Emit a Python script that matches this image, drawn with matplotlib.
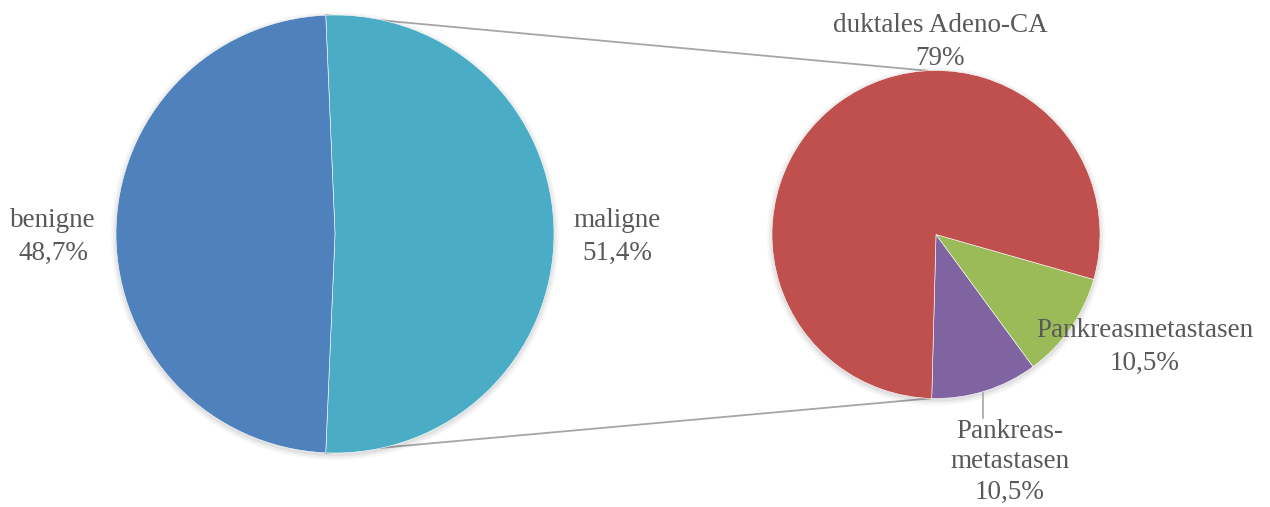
import numpy as np
import matplotlib
matplotlib.use("Agg")
import matplotlib.pyplot as plt
from matplotlib.patches import Circle

# Data
main_labels = ["maligne", "benigne"]
main_values = [51.4, 48.7]
main_colors = ["#4BACC6", "#4F81BD"]

sub_labels = ["Pankreas-\nmetastasen", "Pankreasmetastasen", "duktales Adeno-CA"]
sub_values = [10.5, 10.5, 79]
sub_pct = ["10,5%", "10,5%", "79%"]
sub_colors = ["#8064A2", "#9BBB59", "#C0504D"]

main_pct = ["51,4%", "48,7%"]

W, H = 1270, 507
fig = plt.figure(figsize=(W / 100, H / 100), dpi=100)
ax = fig.add_axes([0, 0, 1, 1])

def Y(y):
    return H - y

textc = "#595959"
font = dict(family="Liberation Serif", fontsize=19.5, color=textc, ha="center", va="center",
            linespacing=1.38)

# Left pie
c1 = (335, Y(234))
r1 = 219
tot1 = sum(main_values)
start1 = -main_values[0] / tot1 * 180
for k, a in enumerate([0.05, 0.04, 0.03]):
    ax.add_patch(Circle((c1[0], c1[1] - 2), r1 + 1 + 2 * k, color="black", alpha=a, lw=0, zorder=1))
ax.pie(main_values, colors=main_colors, center=c1, radius=r1, startangle=start1,
       counterclock=True, wedgeprops=dict(edgecolor="white", linewidth=0.4, zorder=2),
       frame=True)

# Right pie
c2 = (936, Y(234.5))
r2 = 164
tot2 = sum(sub_values)
start2 = -91.5
for k, a in enumerate([0.05, 0.04, 0.03]):
    ax.add_patch(Circle((c2[0], c2[1] - 2), r2 + 1 + 2 * k, color="black", alpha=a, lw=0, zorder=1))
ax.pie(sub_values, colors=sub_colors, center=c2, radius=r2, startangle=start2,
       counterclock=True, wedgeprops=dict(edgecolor="white", linewidth=0.4, zorder=2),
       frame=True)

ax.set_xlim(0, W)
ax.set_ylim(0, H)
ax.set_aspect("equal")
ax.axis("off")

# Connector lines
a_top = np.deg2rad(start1 + main_values[0] / tot1 * 360)
a_bot = np.deg2rad(start1)
p_top = (c1[0] + r1 * np.cos(a_top), c1[1] + r1 * np.sin(a_top))
p_bot = (c1[0] + r1 * np.cos(a_bot), c1[1] + r1 * np.sin(a_bot))
q_top = (c2[0] + r2 * np.cos(np.deg2rad(93)), c2[1] + r2 * np.sin(np.deg2rad(93)))
q_bot = (c2[0] + r2 * np.cos(np.deg2rad(-92)), c2[1] + r2 * np.sin(np.deg2rad(-92)))
ax.plot([p_top[0], q_top[0]], [p_top[1], q_top[1]], color="#A6A6A6", lw=1.3, zorder=0.5)
ax.plot([p_bot[0], q_bot[0]], [p_bot[1], q_bot[1]], color="#A6A6A6", lw=1.3, zorder=0.5)

# Labels
ax.text(53, Y(237), f"{main_labels[1]}\n{main_pct[1]}", **font)
ax.text(617, Y(237), f"{main_labels[0]}\n{main_pct[0]}", **font)
ax.text(940, Y(42), f"{sub_labels[2]}\n{sub_pct[2]}", **font)
ax.text(1145, Y(347), f"{sub_labels[1]}\n{sub_pct[1]}", **font)
f2 = dict(font, linespacing=1.27)
ax.text(1010, Y(462), f"{sub_labels[0]}\n{sub_pct[0]}", **f2)
ax.plot([983, 983], [Y(393), Y(418)], color="#A6A6A6", lw=1.2)

fig.savefig("out.png", dpi=100, facecolor="white")
